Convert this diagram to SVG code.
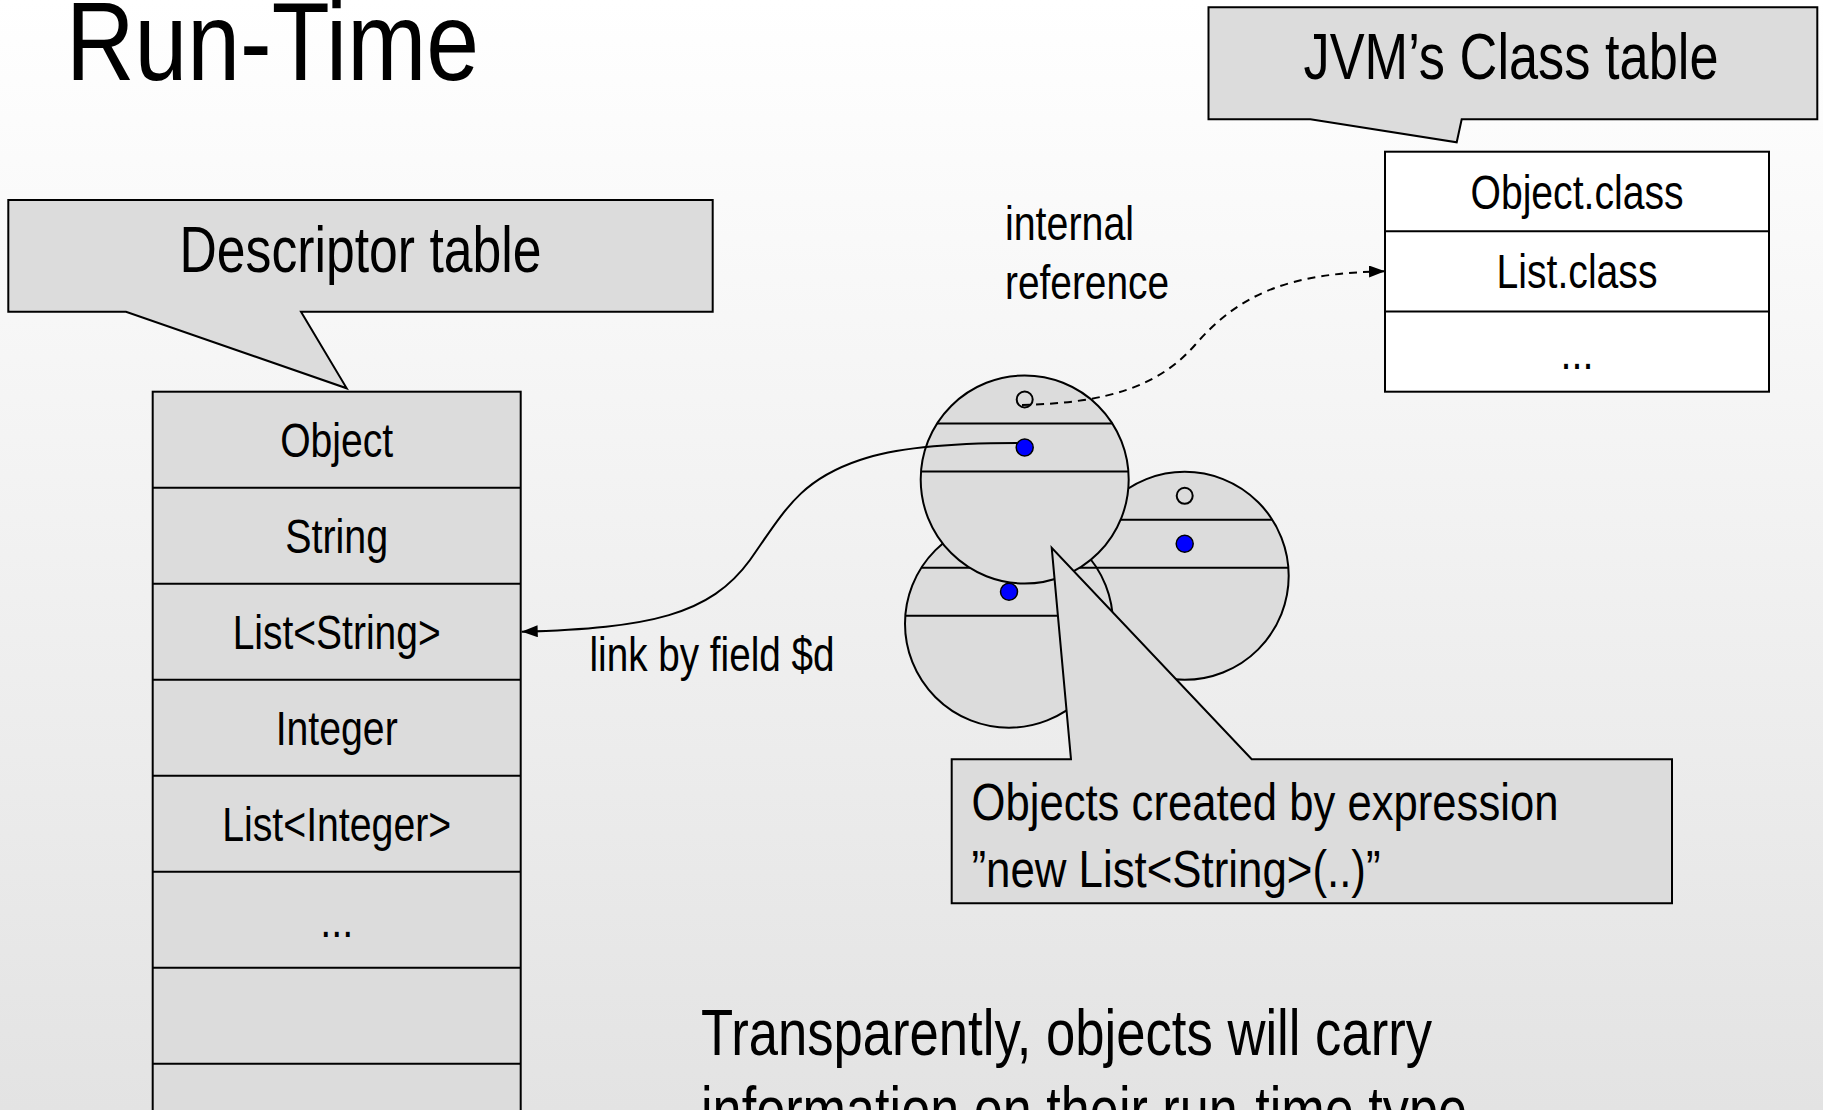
<svg xmlns="http://www.w3.org/2000/svg" width="1823" height="1110" viewBox="0 0 1823 1110">
  <defs>
    <linearGradient id="bg" x1="0" y1="0" x2="0" y2="1">
      <stop offset="0" stop-color="#ffffff"/>
      <stop offset="1" stop-color="#e3e3e3"/>
    </linearGradient>
    <marker id="arrow" viewBox="0 0 16 12" refX="16" refY="6" markerWidth="16" markerHeight="12" markerUnits="userSpaceOnUse" orient="auto">
      <path d="M0,0 L16,6 L0,12 Z" fill="#000"/>
    </marker>
    <style>
      text { font-family: "Liberation Sans", Arial, Helvetica, sans-serif; fill: #000; }
      .t48 { font-size: 48px; }
      .t52 { font-size: 52px; }
      .t64 { font-size: 64px; }
      .mid { text-anchor: middle; }
      .callout { fill: #dcdcdc; stroke: #000; stroke-width: 2; stroke-linejoin: miter; }
      .cell { fill: #dcdcdc; stroke: #000; stroke-width: 2; }
      .wcell { fill: #ffffff; stroke: #000; stroke-width: 2; }
      .rule { stroke: #000; stroke-width: 2; fill: none; }
      .obj { fill: #dcdcdc; stroke: #000; stroke-width: 2; }
      .hole { fill: #dcdcdc; stroke: #000; stroke-width: 2; }
      .dot { fill: #0000ff; stroke: #000; stroke-width: 1.5; }
      .link { fill: none; stroke: #000; stroke-width: 2; }
      .dash { stroke-dasharray: 8 6; }
    </style>
  </defs>

  <rect x="0" y="0" width="1823" height="1110" fill="url(#bg)"/>

  <!-- slide title -->
  <text id="title" x="66" y="80" style="font-size:112px" textLength="413" lengthAdjust="spacingAndGlyphs">Run-Time</text>

  <!-- callout naming the descriptor table -->
  <g id="descriptor-callout">
    <polygon class="callout" points="8.3,200 712.7,200 712.7,311.7 301,311.7 346.7,388.3 126,311.7 8.3,311.7"/>
    <text class="t64 mid" x="360.5" y="271.5" textLength="362" lengthAdjust="spacingAndGlyphs">Descriptor table</text>
  </g>

  <!-- descriptor table, one row per type -->
  <g id="descriptor-table">
    <rect class="cell" x="152.7" y="391.7" width="368" height="730"/>
    <line class="rule" x1="152.7" y1="487.7" x2="520.7" y2="487.7"/>
    <line class="rule" x1="152.7" y1="583.7" x2="520.7" y2="583.7"/>
    <line class="rule" x1="152.7" y1="679.7" x2="520.7" y2="679.7"/>
    <line class="rule" x1="152.7" y1="775.7" x2="520.7" y2="775.7"/>
    <line class="rule" x1="152.7" y1="871.7" x2="520.7" y2="871.7"/>
    <line class="rule" x1="152.7" y1="967.7" x2="520.7" y2="967.7"/>
    <line class="rule" x1="152.7" y1="1063.7" x2="520.7" y2="1063.7"/>
    <text class="t48 mid" x="336.7" y="456.7" textLength="113" lengthAdjust="spacingAndGlyphs">Object</text>
    <text class="t48 mid" x="336.7" y="552.7" textLength="103" lengthAdjust="spacingAndGlyphs">String</text>
    <text class="t48 mid" x="336.7" y="648.7" textLength="208" lengthAdjust="spacingAndGlyphs">List&lt;String&gt;</text>
    <text class="t48 mid" x="336.7" y="744.7" textLength="122" lengthAdjust="spacingAndGlyphs">Integer</text>
    <text class="t48 mid" x="336.7" y="840.7" textLength="229" lengthAdjust="spacingAndGlyphs">List&lt;Integer&gt;</text>
    <text class="t48 mid" x="336.7" y="936.7" textLength="33" lengthAdjust="spacingAndGlyphs">...</text>
  </g>

  <!-- callout naming the JVM class table -->
  <g id="jvm-callout">
    <polygon class="callout" points="1208.5,7.3 1817.3,7.3 1817.3,119.3 1461.7,119.3 1456.7,142.3 1310.4,119.3 1208.5,119.3"/>
    <text class="t64 mid" x="1511" y="79" textLength="415" lengthAdjust="spacingAndGlyphs">JVM’s Class table</text>
  </g>

  <!-- JVM class table -->
  <g id="class-table">
    <rect class="wcell" x="1385" y="151.7" width="384" height="240"/>
    <line class="rule" x1="1385" y1="231.3" x2="1769" y2="231.3"/>
    <line class="rule" x1="1385" y1="311.6" x2="1769" y2="311.6"/>
    <text class="t48 mid" x="1577" y="208.5" textLength="213" lengthAdjust="spacingAndGlyphs">Object.class</text>
    <text class="t48 mid" x="1577" y="288.3" textLength="161" lengthAdjust="spacingAndGlyphs">List.class</text>
    <text class="t48 mid" x="1577" y="368.6" textLength="33" lengthAdjust="spacingAndGlyphs">...</text>
  </g>

  <!-- heap objects: header slot (hollow), descriptor field (blue), body -->
  <g id="object-right">
    <circle class="obj" cx="1184.7" cy="575.8" r="104"/>
    <line class="rule" x1="1097" y1="519.8" x2="1272.4" y2="519.8"/>
    <line class="rule" x1="1081" y1="567.8" x2="1288.4" y2="567.8"/>
    <circle class="hole" cx="1184.7" cy="495.8" r="8"/>
    <circle class="dot" cx="1184.7" cy="543.8" r="8.5"/>
  </g>
  <g id="object-left">
    <circle class="obj" cx="1009" cy="623.7" r="104"/>
    <line class="rule" x1="921.3" y1="567.7" x2="1096.7" y2="567.7"/>
    <line class="rule" x1="905.3" y1="615.7" x2="1112.7" y2="615.7"/>
    <circle class="hole" cx="1009" cy="543.7" r="8"/>
    <circle class="dot" cx="1009" cy="591.7" r="8.5"/>
  </g>
  <g id="object-front">
    <circle class="obj" cx="1024.7" cy="479.5" r="104"/>
    <line class="rule" x1="937" y1="423.5" x2="1112.4" y2="423.5"/>
    <line class="rule" x1="921" y1="471.5" x2="1128.4" y2="471.5"/>
    <circle class="hole" cx="1024.7" cy="399.5" r="8"/>
    <circle class="dot" cx="1024.7" cy="447.5" r="8.5"/>
  </g>

  <!-- references between objects and tables -->
  <g id="connectors">
    <path class="link dash" d="M1022,405 C1110,403 1160,385 1195,345 C1240,293 1290,273 1385,271.3" marker-end="url(#arrow)"/>
    <path class="link" d="M1017,443 C960,443 900,446 860,460 C800,480 785,510 750,560 C710,615 650,628 521.7,631.7" marker-end="url(#arrow)"/>
    <text class="t48" x="1005" y="240" textLength="129" lengthAdjust="spacingAndGlyphs">internal</text>
    <text class="t48" x="1005" y="298.5" textLength="164" lengthAdjust="spacingAndGlyphs">reference</text>
    <text class="t48" x="589.5" y="670.7" textLength="245" lengthAdjust="spacingAndGlyphs">link by field $d</text>
  </g>

  <!-- callout describing the objects -->
  <g id="objects-callout">
    <polygon class="callout" points="951.7,759.3 1071,759.3 1051.7,547.7 1251.7,759.3 1672,759.3 1672,903.3 951.7,903.3"/>
    <text class="t52" x="971.5" y="820" textLength="587" lengthAdjust="spacingAndGlyphs">Objects created by expression</text>
    <text class="t52" x="971.5" y="886.7" textLength="409" lengthAdjust="spacingAndGlyphs">”new List&lt;String&gt;(..)”</text>
  </g>

  <!-- closing remark -->
  <g id="note">
    <text class="t64" x="701" y="1055" textLength="731" lengthAdjust="spacingAndGlyphs">Transparently, objects will carry</text>
    <text class="t64" x="701" y="1132" textLength="766" lengthAdjust="spacingAndGlyphs">information on their run-time type</text>
  </g>
</svg>
